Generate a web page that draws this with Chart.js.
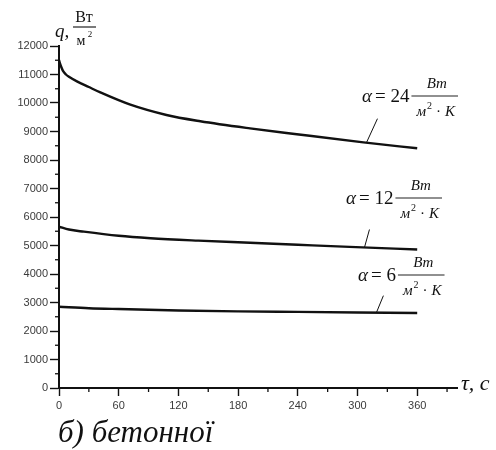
<!DOCTYPE html>
<html>
<head>
<meta charset="utf-8">
<script src="https://cdn.jsdelivr.net/npm/chart.js@4.4.1/dist/chart.umd.min.js"></script>
<style>
  html, body { margin: 0; padding: 0; background: #fff; }
  #wrap { position: relative; width: 496px; height: 450px; }
</style>
</head>
<body>
<div id="wrap"><canvas id="c" width="496" height="450"></canvas></div>
<script>
// Heat flux q (W/m²) through a concrete wall versus time τ (s)
const times24 = [0, 2, 4, 7, 10, 18, 30, 41, 71, 108, 142, 192, 239, 306, 360];
const q24     = [11500, 11290, 11130, 11000, 10920, 10760, 10560, 10380, 9950, 9580, 9360, 9110, 8905, 8620, 8410];

const times12 = [0, 10, 25, 60, 92, 140, 192, 240, 292, 360];
const q12     = [5660, 5560, 5485, 5340, 5255, 5170, 5095, 5025, 4950, 4860];

const times6  = [0, 30, 60, 120, 180, 240, 300, 360];
const q6      = [2850, 2800, 2770, 2720, 2690, 2670, 2650, 2630];

const alphaValues = ['24', '12', '6'];
const xTickValues = [0, 60, 120, 180, 240, 300, 360];
const yTickValues = [0, 1000, 2000, 3000, 4000, 5000, 6000, 7000, 8000, 9000, 10000, 11000, 12000];

function toPoints(ts, qs) { return ts.map((t, i) => ({ x: t, y: qs[i] })); }
function valueAt(ts, qs, t) {
  for (let i = 1; i < ts.length; i++) {
    if (t <= ts[i]) {
      const f = (t - ts[i - 1]) / (ts[i] - ts[i - 1]);
      return qs[i - 1] + f * (qs[i] - qs[i - 1]);
    }
  }
  return qs[qs.length - 1];
}

const lineStyle = {
  borderColor: '#111', borderWidth: 2.4, pointRadius: 0,
  fill: false, cubicInterpolationMode: 'monotone'
};

// Label blocks: anchor time on the curve, leader line tip offset, text origin
const labels = [
  { ts: times24, qs: q24, t: 309, dx: 11, dy: -24, x: 362, y: 97,  a: alphaValues[0] },
  { ts: times12, qs: q12, t: 307, dx: 5,  dy: -18, x: 346, y: 199, a: alphaValues[1] },
  { ts: times6,  qs: q6,  t: 319, dx: 7,  dy: -17, x: 358, y: 276, a: alphaValues[2] }
];

const serif = '"Liberation Serif", "DejaVu Serif", serif';

function drawAlphaLabel(ctx, L) {
  ctx.save();
  ctx.fillStyle = '#111';
  ctx.textBaseline = 'middle';
  ctx.textAlign = 'left';
  let x = L.x;
  ctx.font = 'italic 19px ' + serif;
  ctx.fillText('α', x, L.y);
  x += ctx.measureText('α').width + 3;
  ctx.font = '19px ' + serif;
  const rest = '= ' + L.a;
  ctx.fillText(rest, x, L.y);
  x += ctx.measureText(rest).width + 2;
  // fraction Bm / (м²·K)
  ctx.font = 'italic 15px ' + serif;
  const denomW = ctx.measureText('м  · K').width + 6;
  const barW = denomW + 6;
  ctx.strokeStyle = '#222';
  ctx.lineWidth = 1.2;
  ctx.beginPath();
  ctx.moveTo(x, L.y - 1);
  ctx.lineTo(x + barW, L.y - 1);
  ctx.stroke();
  ctx.textAlign = 'center';
  ctx.fillText('Bm', x + barW / 2 + 2, L.y - 13);
  const dy = L.y + 15;
  let dxs = x + 5;
  ctx.textAlign = 'left';
  ctx.fillText('м', dxs, dy);
  dxs += ctx.measureText('м').width + 1;
  ctx.font = '10px ' + serif;
  ctx.fillText('2', dxs, dy - 6);
  dxs += 9;
  ctx.font = '15px ' + serif;
  ctx.fillText('·', dxs, dy);
  dxs += ctx.measureText('·').width + 4;
  ctx.font = 'italic 15px ' + serif;
  ctx.fillText('K', dxs, dy);
  ctx.restore();
}

const decorations = {
  id: 'decorations',
  afterDraw(chart) {
    const ctx = chart.ctx;
    const xs = chart.scales.x, ys = chart.scales.y;
    const ax = xs.getPixelForValue(0);
    const ay = ys.getPixelForValue(0);
    ctx.save();
    ctx.strokeStyle = '#111';
    ctx.lineWidth = 1.3;
    // minor ticks
    for (let v = 500; v < 12000; v += 1000) {
      const p = ys.getPixelForValue(v);
      ctx.beginPath(); ctx.moveTo(ax - 4, p); ctx.lineTo(ax + 1, p); ctx.stroke();
    }
    for (let t = 30; t <= 390; t += 60) {
      const p = xs.getPixelForValue(t);
      ctx.beginPath(); ctx.moveTo(p, ay - 1); ctx.lineTo(p, ay + 4); ctx.stroke();
    }
    // leader lines
    labels.forEach(L => {
      const px = xs.getPixelForValue(L.t);
      const py = ys.getPixelForValue(valueAt(L.ts, L.qs, L.t));
      ctx.lineWidth = 1;
      ctx.beginPath(); ctx.moveTo(px, py); ctx.lineTo(px + L.dx, py + L.dy); ctx.stroke();
    });
    ctx.restore();
    labels.forEach(L => drawAlphaLabel(ctx, L));

    // y-axis title: q, Вт/м²
    ctx.save();
    ctx.fillStyle = '#111';
    ctx.textBaseline = 'middle';
    ctx.font = 'italic 19px ' + serif;
    ctx.fillText('q,', 55, 32);
    ctx.font = '16px ' + serif;
    ctx.textAlign = 'center';
    ctx.fillText('Вт', 84, 18);
    ctx.strokeStyle = '#222'; ctx.lineWidth = 1.2;
    ctx.beginPath(); ctx.moveTo(73, 27); ctx.lineTo(96, 27); ctx.stroke();
    ctx.font = '14px ' + serif;
    ctx.fillText('м', 81, 41);
    ctx.font = '9px ' + serif;
    ctx.fillText('2', 90, 35);

    // x-axis title: τ, c
    ctx.textAlign = 'left';
    ctx.font = 'italic 22px ' + serif;
    ctx.fillText('τ, c', 461, 384);

    // caption
    ctx.font = 'italic 31px ' + serif;
    ctx.fillText('б) бетонної', 58, 434);
    ctx.restore();
  }
};

const tickFont = { family: '"Liberation Sans", Arial, sans-serif', size: 11 };

new Chart(document.getElementById('c'), {
  type: 'line',
  data: {
    datasets: [
      Object.assign({ label: 'α = 24', data: toPoints(times24, q24) }, lineStyle),
      Object.assign({ label: 'α = 12', data: toPoints(times12, q12) }, lineStyle),
      Object.assign({ label: 'α = 6',  data: toPoints(times6, q6) }, lineStyle)
    ]
  },
  options: {
    responsive: false,
    animation: false,
    layout: { padding: { top: 46, right: 39, bottom: 0, left: 0 } },
    plugins: { legend: { display: false }, tooltip: { enabled: false } },
    scales: {
      x: {
        type: 'linear', min: 0, max: 400,
        afterBuildTicks(s) { s.ticks = xTickValues.map(v => ({ value: v })); },
        afterFit(s) { s.height = 62; },
        border: { color: '#111', width: 2 },
        grid: { drawOnChartArea: false, tickLength: 8, tickColor: '#111', tickWidth: 1.4 },
        ticks: { color: '#3a3a3a', padding: 3, font: tickFont, callback: v => String(v) }
      },
      y: {
        type: 'linear', min: 0, max: 12000,
        afterBuildTicks(s) { s.ticks = yTickValues.map(v => ({ value: v })); },
        afterFit(s) { s.width = 59; },
        border: { color: '#111', width: 2 },
        grid: { drawOnChartArea: false, tickLength: 9, tickColor: '#111', tickWidth: 1.4 },
        ticks: { color: '#3a3a3a', padding: 2, font: tickFont, callback: v => String(v) }
      }
    }
  },
  plugins: [decorations]
});
</script>
</body>
</html>
